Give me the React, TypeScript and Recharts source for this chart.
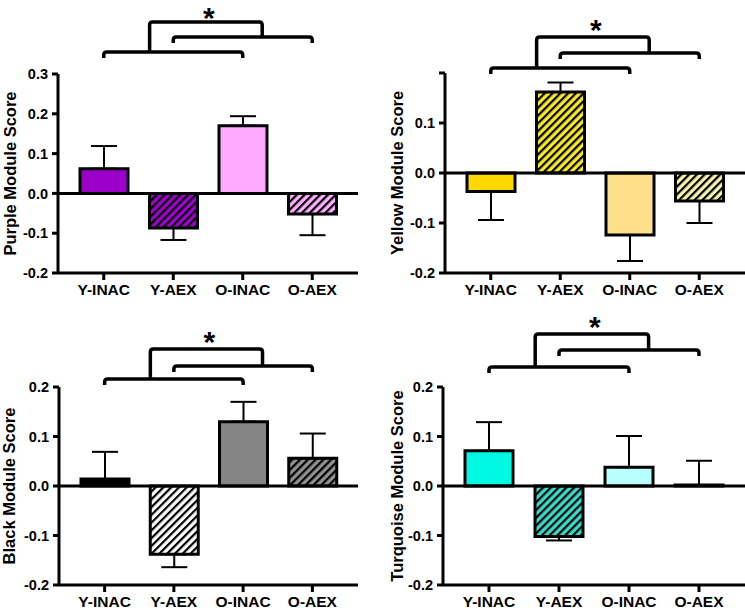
import { Bar, BarChart, Cell, ErrorBar, ReferenceLine, XAxis, YAxis } from "recharts";

const GROUPS = ["Y-INAC", "Y-AEX", "O-INAC", "O-AEX"];

const PURPLE_MEAN = [0.062, -0.087, 0.17, -0.052];
const PURPLE_SEM = [0.057, 0.03, 0.024, 0.053];
const YELLOW_MEAN = [-0.037, 0.162, -0.124, -0.056];
const YELLOW_SEM = [0.057, 0.019, 0.052, 0.044];
const BLACK_MEAN = [0.014, -0.138, 0.13, 0.056];
const BLACK_SEM = [0.055, 0.026, 0.04, 0.05];
const TURQ_MEAN = [0.071, -0.102, 0.038, 0.002];
const TURQ_SEM = [0.058, 0.008, 0.063, 0.049];

const TICKS_A = [-0.2, -0.1, 0, 0.1, 0.2, 0.3];
const TICKS_B = [-0.2, -0.1, 0, 0.1, 0.2];

const FONT = "'Liberation Sans', Arial, sans-serif";
const PAD = 11;
const HP = 5.5; // hatch period

type Fill = { color: string; hatch: boolean };

const PANELS = [
  {
    id: "purple", left: 0, top: 0, width: 372, yw: 58, mt: 74, mr: 14, xh: 30, mb: 4,
    domain: [-0.2, 0.3], ticks: TICKS_A, hidden: [] as number[],
    label: "Purple Module Score", labelX: 10,
    mean: PURPLE_MEAN, sem: PURPLE_SEM,
    fills: [
      { color: "#9a00c8", hatch: false },
      { color: "#a000d0", hatch: true },
      { color: "#ffa8ff", hatch: false },
      { color: "#ffaeff", hatch: true },
    ] as Fill[],
    br: { lower: 52, upper: 37, top: 22, star: 8 },
  },
  {
    id: "yellow", left: 372, top: 0, width: 373, yw: 73, mt: 73, mr: 0, xh: 30, mb: 4,
    domain: [-0.2, 0.2], ticks: TICKS_B, hidden: [0.2],
    label: "Yellow Module Score", labelX: 25,
    mean: YELLOW_MEAN, sem: YELLOW_SEM,
    fills: [
      { color: "#ffd800", hatch: false },
      { color: "#f8ea1e", hatch: true },
      { color: "#ffe08a", hatch: false },
      { color: "#f8f6a8", hatch: true },
    ] as Fill[],
    br: { lower: 68, upper: 53, top: 37, star: 23 },
  },
  {
    id: "black", left: 0, top: 307, width: 372, yw: 59, mt: 80, mr: 14, xh: 29, mb: 0,
    domain: [-0.2, 0.2], ticks: TICKS_B, hidden: [] as number[],
    label: "Black Module Score", labelX: 9,
    mean: BLACK_MEAN, sem: BLACK_SEM,
    fills: [
      { color: "#000000", hatch: false },
      { color: "#ffffff", hatch: true },
      { color: "#858585", hatch: false },
      { color: "#909090", hatch: true },
    ] as Fill[],
    br: { lower: 72, upper: 59, top: 42, star: 28 },
  },
  {
    id: "turq", left: 372, top: 307, width: 373, yw: 71, mt: 80, mr: 0, xh: 29, mb: 0,
    domain: [-0.2, 0.2], ticks: TICKS_B, hidden: [] as number[],
    label: "Turquoise Module Score", labelX: 25,
    mean: TURQ_MEAN, sem: TURQ_SEM,
    fills: [
      { color: "#00f8e2", hatch: false },
      { color: "#34dccc", hatch: true },
      { color: "#b8ffff", hatch: false },
      { color: "#ffffff", hatch: false },
    ] as Fill[],
    br: { lower: 60, upper: 43, top: 27, star: 13 },
  },
];

const H = 307;

const YLabel = ({ viewBox, text, x }: any) => {
  const cy = viewBox.y + viewBox.height / 2;
  return (
    <text
      x={x}
      y={cy}
      transform={`rotate(-90 ${x} ${cy})`}
      textAnchor="middle"
      dominantBaseline="central"
      fontSize={16.5}
      fontWeight={700}
      fontFamily={FONT}
      fill="#000"
    >
      {text}
    </text>
  );
};

const Brackets = ({ p }: any) => {
  const left = p.yw;
  const right = p.width - p.mr;
  const band = (right - left - 2 * PAD) / 4;
  const c = [0, 1, 2, 3].map((i) => left + PAD + band * (i + 0.5));
  const drop = 6;
  const r = 3;
  const { lower, upper, top, star } = p.br;
  const bracket = (x1: number, x2: number, y: number) =>
    `M${x1},${y + drop} L${x1},${y + r} Q${x1},${y} ${x1 + r},${y} L${x2 - r},${y} Q${x2},${y} ${x2},${y + r} L${x2},${y + drop}`;
  const jl = c[0] + 0.66 * band;
  const jr = c[2] + 0.28 * band;
  const joint = `M${jl},${lower} L${jl},${top + r} Q${jl},${top} ${jl + r},${top} L${jr - r},${top} Q${jr},${top} ${jr},${top + r} L${jr},${upper}`;
  const fs = 30;
  // keep the text box inside the page
  const baseline = Math.max(star + 0.56 * fs, 0.93 * fs);
  return (
    <svg
      width={p.width}
      height={H}
      style={{ position: "absolute", left: 0, top: 0, pointerEvents: "none" }}
    >
      <g fill="none" stroke="#000" strokeWidth={3.5} strokeLinejoin="round">
        <path d={bracket(c[0], c[2], lower)} />
        <path d={bracket(c[1], c[3], upper)} />
        <path d={joint} />
      </g>
      <text
        x={(jl + jr) / 2 + 3}
        y={baseline}
        textAnchor="middle"
        fontSize={fs}
        fontWeight={700}
        fontFamily={FONT}
        fill="#000"
      >
        *
      </text>
    </svg>
  );
};

const Panel = ({ p }: any) => {
  const data = GROUPS.map((g, i) => ({
    group: g,
    value: p.mean[i],
    err: p.mean[i] >= 0 ? [0, p.sem[i]] : [p.sem[i], 0],
  }));
  const tickStyle = { fill: "#000", fontWeight: 700, fontFamily: FONT };
  return (
    <div style={{ position: "absolute", left: p.left, top: p.top, width: p.width, height: H }}>
      <BarChart
        width={p.width}
        height={H}
        data={data}
        margin={{ top: p.mt, right: p.mr, bottom: p.mb, left: 0 }}
        barSize={48}
      >
        <defs>
          {p.fills.map((f: Fill, i: number) =>
            f.hatch ? (
              <pattern
                key={i}
                id={`${p.id}-h${i}`}
                patternUnits="userSpaceOnUse"
                width={HP}
                height={HP}
                patternTransform="rotate(45)"
              >
                <rect width={HP} height={HP} fill={f.color} />
                <rect width={2.2} height={HP} fill="#000" />
              </pattern>
            ) : null
          )}
        </defs>
        <XAxis
          dataKey="group"
          height={p.xh}
          padding={{ left: PAD, right: PAD }}
          axisLine={{ stroke: "#000", strokeWidth: 3 }}
          tickLine={{ stroke: "#000", strokeWidth: 3 }}
          tickSize={7}
          tickMargin={4}
          tick={{ ...tickStyle, fontSize: 15.5 }}
          interval={0}
        />
        <YAxis
          width={p.yw}
          domain={p.domain}
          ticks={p.ticks}
          type="number"
          allowDataOverflow
          axisLine={{ stroke: "#000", strokeWidth: 3 }}
          tickLine={{ stroke: "#000", strokeWidth: 3 }}
          tickSize={6}
          tickMargin={4}
          tick={{ ...tickStyle, fontSize: 14.5 }}
          tickFormatter={(v: number) =>
            p.hidden.some((h: number) => Math.abs(h - v) < 1e-9) ? "" : v.toFixed(1)
          }
          label={{
            content: (lp: any) => <YLabel viewBox={lp.viewBox} text={p.label} x={p.labelX} />,
          }}
        />
        <Bar
          dataKey="value"
          stroke="#000"
          strokeWidth={3}
          isAnimationActive={false}
        >
          {p.fills.map((f: Fill, i: number) => (
            <Cell key={i} fill={f.hatch ? `url(#${p.id}-h${i})` : f.color} />
          ))}
          <ErrorBar
            dataKey="err"
            direction="y"
            width={13}
            stroke="#000"
            strokeWidth={2}
            isAnimationActive={false}
          />
        </Bar>
        <ReferenceLine y={0} stroke="#000" strokeWidth={3} />
      </BarChart>
      <Brackets p={p} />
    </div>
  );
}

export default function App() {
  return (
    <div
      style={{
        position: "absolute",
        left: 0,
        top: 0,
        width: 745,
        height: 614,
        background: "#fff",
        fontFamily: FONT,
      }}
    >
      {PANELS.map((p) => (
        <Panel key={p.id} p={p} />
      ))}
    </div>
  );
}
